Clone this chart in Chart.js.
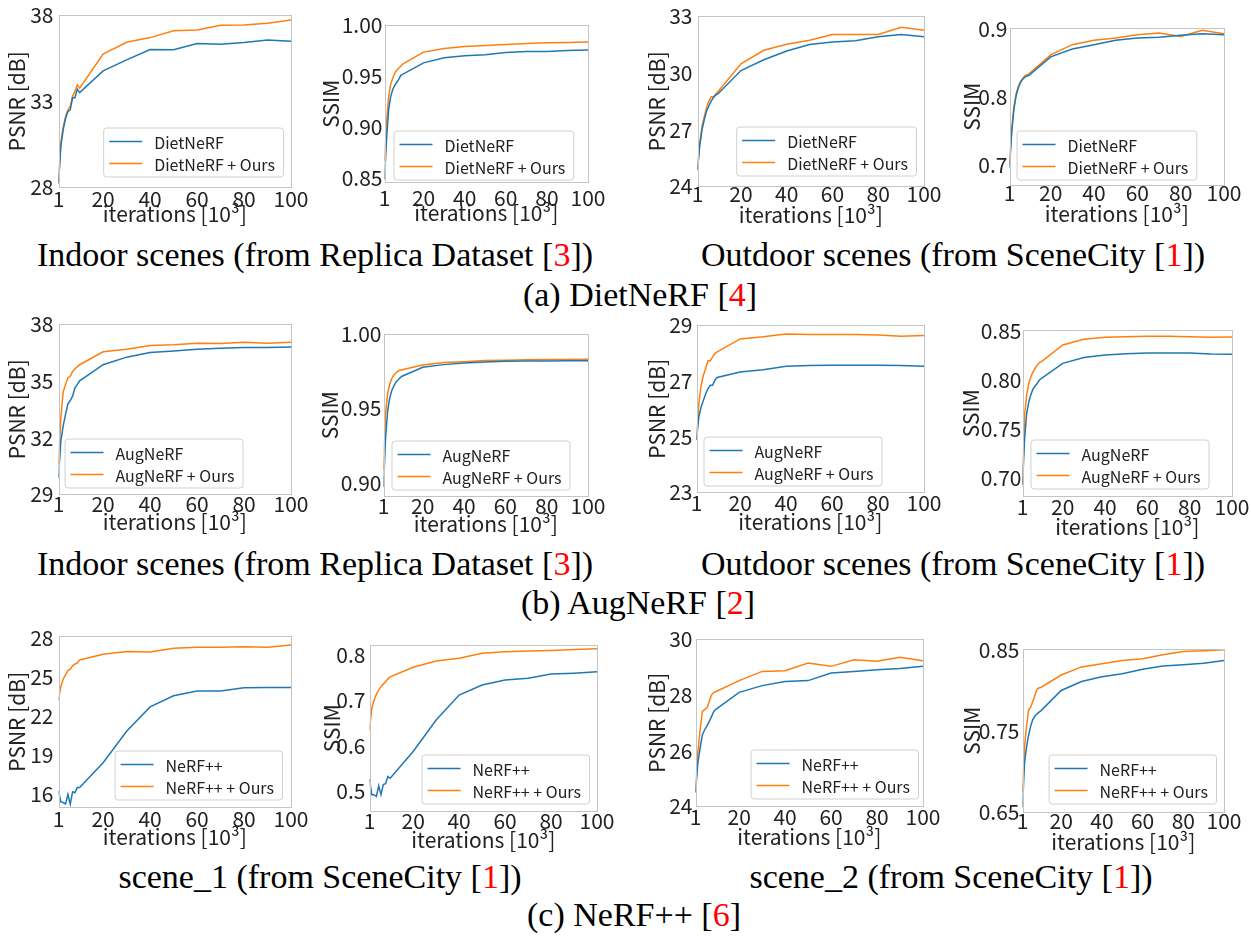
<!DOCTYPE html>
<html>
<head>
<meta charset="utf-8">
<script src="https://cdn.jsdelivr.net/npm/chart.js@4.4.1/dist/chart.umd.min.js"></script>
<style>
  body { margin: 0; background: #fff; }
  #page { position: relative; width: 1251px; height: 936px; overflow: hidden; }
  canvas { position: absolute; }
  .cap {
    position: absolute; transform: translateX(-50%); white-space: nowrap;
    font-family: "Liberation Serif", "Times New Roman", serif; font-size: 34px;
    line-height: 40px; color: #000;
  }
  .ref { color: #ff0000; }
</style>
</head>
<body>
<div id="page">
  <div class="cap" style="left:315px; top:235px">Indoor scenes (from Replica Dataset [<span class="ref">3</span>])</div>
  <div class="cap" style="left:953px; top:235px">Outdoor scenes (from SceneCity [<span class="ref">1</span>])</div>
  <div class="cap" style="left:640px; top:275px">(a) DietNeRF [<span class="ref">4</span>]</div>
  <div class="cap" style="left:315px; top:544px">Indoor scenes (from Replica Dataset [<span class="ref">3</span>])</div>
  <div class="cap" style="left:953px; top:544px">Outdoor scenes (from SceneCity [<span class="ref">1</span>])</div>
  <div class="cap" style="left:638px; top:583px">(b) AugNeRF [<span class="ref">2</span>]</div>
  <div class="cap" style="left:320px; top:857px">scene_1 (from SceneCity [<span class="ref">1</span>])</div>
  <div class="cap" style="left:951px; top:857px">scene_2 (from SceneCity [<span class="ref">1</span>])</div>
  <div class="cap" style="left:634px; top:895px">(c) NeRF++ [<span class="ref">6</span>]</div>
</div>
<script>
// iteracions (x 10^3) comunes a totes les corbes
const iterations = [1, 2, 3, 4, 5, 6, 7, 8, 9, 10, 20, 30, 40, 50, 60, 70, 80, 90, 100];
const xTickValues = [1, 20, 40, 60, 80, 100];

// (a) DietNeRF
const dietIndoorPsnr     = [28.27, 30.4, 31.35, 32.0, 32.4, 32.5, 33.2, 33.2, 33.7, 33.5, 34.76, 35.4, 36.0, 35.98, 36.35, 36.3, 36.4, 36.55, 36.48];
const dietIndoorPsnrOurs = [28.2, 30.6, 31.5, 32.1, 32.5, 32.7, 33.3, 33.57, 33.95, 33.76, 35.73, 36.42, 36.69, 37.08, 37.13, 37.4, 37.42, 37.52, 37.71];
const dietIndoorSsim     = [0.849, 0.888, 0.917, 0.930, 0.937, 0.941, 0.944, 0.947, 0.951, 0.952, 0.963, 0.968, 0.970, 0.971, 0.973, 0.974, 0.974, 0.975, 0.9755];
const dietIndoorSsimOurs = [0.867, 0.904, 0.930, 0.942, 0.948, 0.953, 0.956, 0.958, 0.960, 0.962, 0.9735, 0.977, 0.979, 0.980, 0.981, 0.982, 0.9827, 0.983, 0.9833];
const dietOutdoorPsnr     = [24.88, 26.2, 27.0, 27.55, 28.0, 28.26, 28.52, 28.7, 28.83, 28.9, 30.12, 30.69, 31.15, 31.49, 31.63, 31.69, 31.9, 32.02, 31.9];
const dietOutdoorPsnrOurs = [24.88, 26.3, 27.2, 27.7, 28.17, 28.52, 28.74, 28.74, 28.88, 29.02, 30.48, 31.19, 31.51, 31.72, 32.02, 32.02, 32.02, 32.4, 32.25];
const dietOutdoorSsim     = [0.696, 0.747, 0.782, 0.801, 0.813, 0.821, 0.826, 0.829, 0.831, 0.832, 0.859, 0.8707, 0.877, 0.8834, 0.8868, 0.888, 0.891, 0.893, 0.8917];
const dietOutdoorSsimOurs = [0.701, 0.752, 0.784, 0.804, 0.815, 0.822, 0.827, 0.831, 0.833, 0.834, 0.862, 0.877, 0.8834, 0.8868, 0.8917, 0.894, 0.889, 0.898, 0.893];

// (b) AugNeRF
const augIndoorPsnr     = [29.87, 31.83, 32.62, 33.23, 33.79, 33.96, 34.19, 34.63, 34.8, 35.0, 35.85, 36.25, 36.5, 36.58, 36.67, 36.72, 36.76, 36.76, 36.78];
const augIndoorPsnrOurs = [30.6, 33.05, 34.42, 34.8, 35.15, 35.24, 35.5, 35.64, 35.74, 35.85, 36.53, 36.67, 36.86, 36.9, 36.99, 36.97, 37.04, 36.99, 37.04];
const augIndoorSsim     = [0.897, 0.930, 0.948, 0.957, 0.962, 0.965, 0.9676, 0.969, 0.9705, 0.9716, 0.9776, 0.9794, 0.9805, 0.9812, 0.9817, 0.9819, 0.9819, 0.982, 0.982];
const augIndoorSsimOurs = [0.909, 0.946, 0.960, 0.966, 0.970, 0.9723, 0.9738, 0.975, 0.9756, 0.976, 0.9792, 0.9808, 0.9814, 0.9821, 0.9823, 0.9826, 0.9828, 0.9828, 0.983];
const augOutdoorPsnr     = [24.88, 25.7, 26.06, 26.3, 26.54, 26.72, 26.84, 26.84, 27.02, 27.12, 27.32, 27.4, 27.52, 27.55, 27.56, 27.56, 27.56, 27.55, 27.52];
const augOutdoorPsnrOurs = [24.88, 26.18, 26.84, 27.2, 27.44, 27.72, 27.72, 27.86, 27.98, 28.04, 28.5, 28.58, 28.68, 28.66, 28.66, 28.66, 28.64, 28.6, 28.62];
const augOutdoorSsim     = [0.693, 0.741, 0.766, 0.778, 0.7855, 0.791, 0.794, 0.7967, 0.800, 0.8018, 0.817, 0.8229, 0.8256, 0.8269, 0.8276, 0.8276, 0.8276, 0.8266, 0.8262];
const augOutdoorSsimOurs = [0.693, 0.7645, 0.7855, 0.7967, 0.8035, 0.8086, 0.812, 0.8154, 0.8178, 0.8188, 0.8357, 0.8415, 0.8436, 0.8442, 0.8446, 0.8446, 0.8442, 0.8436, 0.8439];

// (c) NeRF++
const nerfScene1Psnr     = [16.26, 15.41, 15.36, 15.24, 16.0, 15.24, 16.18, 16.13, 16.51, 16.51, 18.43, 20.85, 22.72, 23.58, 23.94, 23.94, 24.2, 24.22, 24.22];
const nerfScene1PsnrOurs = [23.23, 24.3, 24.86, 25.19, 25.52, 25.63, 25.88, 26.03, 26.09, 26.34, 26.77, 26.98, 26.95, 27.23, 27.31, 27.31, 27.36, 27.31, 27.49];
const nerfScene1Ssim     = [0.527, 0.493, 0.493, 0.489, 0.5125, 0.493, 0.515, 0.517, 0.533, 0.529, 0.588, 0.657, 0.712, 0.734, 0.745, 0.749, 0.758, 0.760, 0.763];
const nerfScene1SsimOurs = [0.635, 0.683, 0.701, 0.714, 0.723, 0.7305, 0.736, 0.741, 0.747, 0.752, 0.773, 0.787, 0.793, 0.804, 0.807, 0.809, 0.810, 0.812, 0.814];
const nerfScene2Psnr     = [24.5, 25.55, 26.09, 26.57, 26.75, 26.89, 27.05, 27.23, 27.41, 27.49, 28.09, 28.33, 28.48, 28.51, 28.78, 28.84, 28.9, 28.94, 29.02];
const nerfScene2PsnrOurs = [24.5, 25.91, 26.75, 27.41, 27.47, 27.53, 27.77, 28.0, 28.09, 28.12, 28.51, 28.84, 28.86, 29.14, 29.02, 29.26, 29.2, 29.35, 29.22];
const nerfScene2Ssim     = [0.657, 0.711, 0.731, 0.745, 0.756, 0.764, 0.768, 0.771, 0.773, 0.775, 0.800, 0.811, 0.817, 0.8205, 0.826, 0.830, 0.8316, 0.8336, 0.837];
const nerfScene2SsimOurs = [0.675, 0.731, 0.756, 0.776, 0.7795, 0.786, 0.793, 0.801, 0.803, 0.8037, 0.819, 0.829, 0.833, 0.837, 0.839, 0.844, 0.848, 0.849, 0.85];

// etiquetes dels eixos Y
const ticksDietIndoorPsnr  = ['28', '33', '38'];
const ticksDietIndoorSsim  = ['0.85', '0.90', '0.95', '1.00'];
const ticksDietOutdoorPsnr = ['24', '27', '30', '33'];
const ticksDietOutdoorSsim = ['0.7', '0.8', '0.9'];
const ticksAugIndoorPsnr   = ['29', '32', '35', '38'];
const ticksAugIndoorSsim   = ['0.90', '0.95', '1.00'];
const ticksAugOutdoorPsnr  = ['23', '25', '27', '29'];
const ticksAugOutdoorSsim  = ['0.70', '0.75', '0.80', '0.85'];
const ticksScene1Psnr      = ['16', '19', '22', '25', '28'];
const ticksScene1Ssim      = ['0.5', '0.6', '0.7', '0.8'];
const ticksScene2Psnr      = ['24', '26', '28', '30'];
const ticksScene2Ssim      = ['0.65', '0.75', '0.85'];

const BLUE = '#1f77b4';
const ORANGE = '#ff7f0e';
const FONT = '"Noto Sans CJK JP", "Noto Sans", sans-serif';
const TICK_SIZE = 21;
const LEGEND_SIZE = 16;

// plot = [left, top, right, bottom] de l'area de dibuix a la pagina
const panels = [
  { method: 'DietNeRF', base: dietIndoorPsnr, ours: dietIndoorPsnrOurs, yTicks: ticksDietIndoorPsnr, yTitle: 'PSNR [dB]', yMin: 28, yMax: 38,
    plot: [58, 15, 291, 188], yTitleOff: 41, yPad: 5, xTickOff: 12, xTitleOff: 27, legend: { side: 'right', dx: 8, dy: 11 } },
  { method: 'DietNeRF', base: dietIndoorSsim, ours: dietIndoorSsimOurs, yTicks: ticksDietIndoorSsim, yTitle: 'SSIM', yMin: 0.846, yMax: 1.0,
    plot: [384, 25, 588, 183], yTitleOff: 53, yPad: 2, xTickOff: 16, xTitleOff: 31, legend: { side: 'left', dx: 9, dy: 3 } },
  { method: 'DietNeRF', base: dietOutdoorPsnr, ours: dietOutdoorPsnrOurs, yTicks: ticksDietOutdoorPsnr, yTitle: 'PSNR [dB]', yMin: 24, yMax: 33,
    plot: [697, 16, 924, 187], yTitleOff: 40, yPad: 5, xTickOff: 8, xTitleOff: 29, legend: { side: 'right', dx: 8, dy: 11 } },
  { method: 'DietNeRF', base: dietOutdoorSsim, ours: dietOutdoorSsimOurs, yTicks: ticksDietOutdoorSsim, yTitle: 'SSIM', yMin: 0.670, yMax: 0.9015,
    plot: [1009, 28, 1224, 186], yTitleOff: 37, yPad: 2, xTickOff: 8, xTitleOff: 29, legend: { side: 'left', dx: 7, dy: 6 } },

  { method: 'AugNeRF', base: augIndoorPsnr, ours: augIndoorPsnrOurs, yTicks: ticksAugIndoorPsnr, yTitle: 'PSNR [dB]', yMin: 29, yMax: 38,
    plot: [58, 324, 291, 495], yTitleOff: 41, yPad: 5, xTickOff: 10, xTitleOff: 28, legend: { side: 'left', dx: 6, dy: 7 } },
  { method: 'AugNeRF', base: augIndoorSsim, ours: augIndoorSsimOurs, yTicks: ticksAugIndoorSsim, yTitle: 'SSIM', yMin: 0.8907, yMax: 1.0,
    plot: [383, 334, 588, 497], yTitleOff: 53, yPad: 2, xTickOff: 10, xTitleOff: 28, legend: { side: 'left', dx: 8, dy: 7 } },
  { method: 'AugNeRF', base: augOutdoorPsnr, ours: augOutdoorPsnrOurs, yTicks: ticksAugOutdoorPsnr, yTitle: 'PSNR [dB]', yMin: 23, yMax: 29,
    plot: [696, 325, 924, 493], yTitleOff: 39, yPad: 4, xTickOff: 11, xTitleOff: 30, legend: { side: 'left', dx: 7, dy: 7 } },
  { method: 'AugNeRF', base: augOutdoorSsim, ours: augOutdoorSsimOurs, yTicks: ticksAugOutdoorSsim, yTitle: 'SSIM', yMin: 0.6813, yMax: 0.851,
    plot: [1022, 330, 1232, 497], yTitleOff: 51, yPad: 1, xTickOff: 11, xTitleOff: 31, legend: { side: 'left', dx: 8, dy: 8 } },

  { method: 'NeRF++', base: nerfScene1Psnr, ours: nerfScene1PsnrOurs, yTicks: ticksScene1Psnr, yTitle: 'PSNR [dB]', yMin: 14.98, yMax: 28.18,
    plot: [58, 636, 291, 808], yTitleOff: 41, yPad: 5, xTickOff: 12, xTitleOff: 30, legend: { side: 'right', dx: 9, dy: 8 } },
  { method: 'NeRF++', base: nerfScene1Ssim, ours: nerfScene1SsimOurs, yTicks: ticksScene1Ssim, yTitle: 'SSIM', yMin: 0.456, yMax: 0.822,
    plot: [369, 645, 597, 812], yTitleOff: 37, yPad: 4, xTickOff: 10, xTitleOff: 29, legend: { side: 'right', dx: 8, dy: 8 } },
  { method: 'NeRF++', base: nerfScene2Psnr, ours: nerfScene2PsnrOurs, yTicks: ticksScene2Psnr, yTitle: 'PSNR [dB]', yMin: 24, yMax: 30,
    plot: [695, 639, 923, 807], yTitleOff: 38, yPad: 3, xTickOff: 11, xTitleOff: 31, legend: { side: 'right', dx: 5, dy: 8 } },
  { method: 'NeRF++', base: nerfScene2Ssim, ours: nerfScene2SsimOurs, yTicks: ticksScene2Ssim, yTitle: 'SSIM', yMin: 0.65, yMax: 0.851,
    plot: [1022, 649, 1224, 813], yTitleOff: 50, yPad: 3, xTickOff: 9, xTitleOff: 30, legend: { side: 'right', dx: 8, dy: 9 } },
];

// marc gris de l'eix (els quatre costats, com matplotlib)
const framePlugin = {
  id: 'frame',
  afterDatasetsDraw(chart) {
    const { ctx, chartArea: a } = chart;
    ctx.save();
    ctx.strokeStyle = '#c4c4c4';
    ctx.lineWidth = 1;
    ctx.strokeRect(Math.round(a.left) + 0.5, Math.round(a.top) + 0.5,
                   Math.round(a.width) - 1, Math.round(a.height) - 1);
    ctx.restore();
  }
};

// llegenda amb caixa dins l'area de dibuix
const boxLegend = {
  id: 'boxLegend',
  afterDraw(chart, args, opts) {
    const { ctx, chartArea: a } = chart;
    const sets = chart.data.datasets;
    ctx.save();
    ctx.font = LEGEND_SIZE + 'px ' + FONT;
    const textW = Math.max(...sets.map(d => ctx.measureText(d.label).width));
    const w = 6 + 33 + 12 + textW + 8;
    const h = 49;
    const x = opts.side === 'right' ? a.right - opts.dx - w : a.left + opts.dx;
    const y = a.bottom - opts.dy - h;
    ctx.beginPath();
    ctx.roundRect(x + 0.5, y + 0.5, w, h, 3);
    ctx.fillStyle = 'rgba(255,255,255,0.8)';
    ctx.fill();
    ctx.strokeStyle = '#d0d0d0';
    ctx.lineWidth = 1;
    ctx.stroke();
    sets.forEach((d, i) => {
      const cy = y + 14 + i * 22;
      ctx.beginPath();
      ctx.moveTo(x + 6, cy);
      ctx.lineTo(x + 39, cy);
      ctx.strokeStyle = d.borderColor;
      ctx.lineWidth = 1.5;
      ctx.stroke();
      ctx.fillStyle = '#222';
      ctx.textBaseline = 'middle';
      ctx.textAlign = 'left';
      ctx.fillText(d.label, x + 51, cy + 1);
    });
    ctx.restore();
  }
};

const page = document.getElementById('page');
const PAD = { left: 4, top: 14, right: 26, bottom: 6 };

panels.forEach(p => {
  const [pl, pt, pr, pb] = p.plot;
  const yW = p.yTitleOff + TICK_SIZE / 2;
  const xH = p.xTitleOff + TICK_SIZE / 2;

  const canvas = document.createElement('canvas');
  canvas.width = PAD.left + yW + (pr - pl) + PAD.right;
  canvas.height = PAD.top + (pb - pt) + xH + PAD.bottom;
  canvas.style.left = (pl - yW - PAD.left) + 'px';
  canvas.style.top = (pt - PAD.top) + 'px';
  canvas.style.width = canvas.width + 'px';
  canvas.style.height = canvas.height + 'px';
  page.appendChild(canvas);

  const tickFont = { family: FONT, size: TICK_SIZE, lineHeight: 1 };

  new Chart(canvas, {
    type: 'line',
    data: {
      datasets: [
        { label: p.method, data: iterations.map((x, i) => ({ x, y: p.base[i] })), borderColor: BLUE },
        { label: p.method + ' + Ours', data: iterations.map((x, i) => ({ x, y: p.ours[i] })), borderColor: ORANGE },
      ]
    },
    options: {
      responsive: false,
      animation: false,
      devicePixelRatio: 1,
      layout: { padding: PAD },
      elements: {
        point: { radius: 0 },
        line: { borderWidth: 1.5, tension: 0, fill: false }
      },
      plugins: {
        legend: { display: false },
        tooltip: { enabled: false },
        boxLegend: p.legend
      },
      scales: {
        x: {
          type: 'linear', min: 1, max: 100,
          grid: { display: false, drawTicks: false },
          border: { display: false },
          afterBuildTicks: s => { s.ticks = xTickValues.map(v => ({ value: v })); },
          ticks: { font: tickFont, color: '#222', padding: p.xTickOff - TICK_SIZE / 2, maxRotation: 0, autoSkip: false,
                   callback: v => String(v) },
          title: { display: true, text: 'iterations [10³]', font: tickFont, color: '#222', padding: 0 },
          afterFit: s => { s.height = xH; s.paddingLeft = 0; s.paddingRight = 0; }
        },
        y: {
          min: p.yMin, max: p.yMax,
          grid: { display: false, drawTicks: false },
          border: { display: false },
          afterBuildTicks: s => { s.ticks = p.yTicks.map(t => ({ value: parseFloat(t) })); },
          ticks: { font: tickFont, color: '#222', padding: p.yPad, autoSkip: false,
                   callback: (v, i) => p.yTicks[i] },
          title: { display: true, text: p.yTitle, font: tickFont, color: '#222', padding: 0 },
          afterFit: s => { s.width = yW; s.paddingTop = 0; s.paddingBottom = 0; }
        }
      }
    },
    plugins: [framePlugin, boxLegend]
  });
});
</script>
</body>
</html>
